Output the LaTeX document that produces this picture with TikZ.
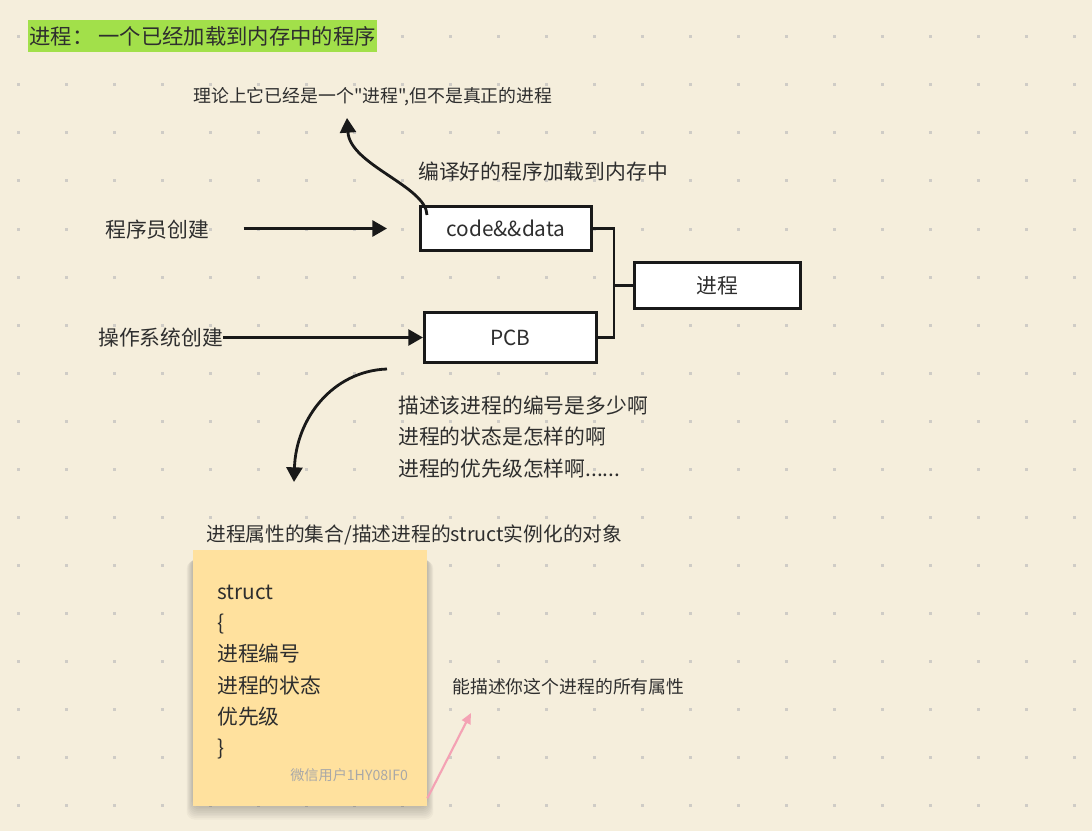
\documentclass[tikz,border=0pt]{standalone}
\usepackage{fontspec}
\setmainfont{Noto Sans CJK SC}
\newfontfamily\cjk{Noto Sans CJK SC}
\usetikzlibrary{positioning, arrows.meta}
\definecolor{paper}{HTML}{F5EEDC}
\definecolor{griddot}{HTML}{CFCCC6}
\definecolor{titlegreen}{HTML}{A2E04A}
\definecolor{stickynote}{HTML}{FFE19E}
\definecolor{inkgray}{HTML}{2E2E2E}
\definecolor{attrpink}{HTML}{F4A2B4}
\definecolor{markgray}{HTML}{A8A8A8}
\newcommand{\lbfont}{\cjk\fontsize{15.6pt}{23.4pt}\selectfont}
\begin{document}
\begin{tikzpicture}[
    x=0.75pt, y=-0.75pt,
    lbl/.style={inner sep=0pt, anchor=west, text=inkgray, font=\lbfont, align=left},
    smalllbl/.style={inner sep=0pt, anchor=west, text=inkgray, font=\cjk\fontsize{13.4pt}{16pt}\selectfont},
    box/.style={rectangle, draw=black!90, fill=white, line width=2.4pt, text=inkgray, font=\lbfont, inner sep=0pt},
    arrow/.style={-{Triangle[length=11pt, width=12pt]}, line width=2.1pt, black!90},
    link/.style={line width=2pt, black!90},
    sticky/.style={rectangle, fill=stickynote, minimum width=175.5pt, minimum height=192pt, inner sep=0pt},
    pinkarrow/.style={-{Triangle[length=8pt, width=7pt]}, line width=1.6pt, attrpink}
]
% paper and dot grid
\fill[paper] (0,0) rectangle (1092,831);
\useasboundingbox (0,0) rectangle (1092,831);
\foreach \gx in {18,66,...,1074}
  \foreach \gy in {37,85,...,805}
    \fill[griddot] (\gx-1.5,\gy-1.5) rectangle ++(3,3);

% title
\node[fill=titlegreen, text=inkgray, inner xsep=1pt, inner ysep=0pt, minimum height=24pt, anchor=west,
    font=\cjk\fontsize{16pt}{18pt}\selectfont] (title) at (28,36) {进程： 一个已经加载到内存中的程序};
\node[smalllbl] (theory) at (193,97) {理论上它已经是一个"进程",但不是真正的进程};
\node[lbl] (loadlbl) at (418,172) {编译好的程序加载到内存中};

% boxes
\node[box, minimum width=128.1pt, minimum height=32.9pt] (code) at (506,228.5) {code\&\&data};
\node[box, minimum width=124.4pt, minimum height=34.4pt] (proc) at (717.5,285.5) {进程};
\node[box, minimum width=128.9pt, minimum height=37.4pt] (pcb) at (510.5,337.5) {PCB};

\node[lbl] (coder) at (105,229.5) {程序员创建};
\node[lbl] (os) at (98,338) {操作系统创建};

\draw[arrow, shorten <=25.5pt, shorten >=24pt] (coder.east |- code.west) -- (code.west);
\draw[arrow] (os.east |- pcb.west) -- (pcb.west);

\coordinate (fork) at (614,285.5);
\draw[link] (code.east) -| (fork) |- (pcb.east);
\draw[link] (fork) -- (proc.west);

% curved arrows
\coordinate (uptip) at (347,118);
\draw[arrow] ([xshift=6pt, yshift=-7.5pt]code.north west) .. controls (426,186) and (350,165) .. (uptip);
\coordinate (pcbtail) at (387,369);
\coordinate (structtip) at (294,482);
\draw[arrow] (pcbtail) .. controls (333,371) and (296,418) .. (structtip);

\node[lbl] (pcbinfo) at (398,437) {描述该进程的编号是多少啊\\进程的状态是怎样的啊\\进程的优先级怎样啊......};

% struct note
\node[lbl, font=\cjk\fontsize{14.8pt}{18pt}\selectfont] (structcap) at (206,535) {进程属性的集合/描述进程的struct实例化的对象};
\foreach \s in {1,...,8}
  \fill[black, opacity=0.028, rounded corners=6pt] (193-\s*0.8,556+\s*0.6) rectangle (427+\s*0.8,806+\s*1.7);
\node[sticky] (note) at (310,678) {};
\node[lbl] (fields) at (217,672) {struct\\\{\\进程编号\\进程的状态\\优先级\\\}};
\node[inner sep=0pt, anchor=east, text=markgray, font=\cjk\fontsize{10.6pt}{12pt}\selectfont] (wm)
    at ([shift={(-14.25pt,23.25pt)}]note.south east) {微信用户1HY08IF0};

\node[smalllbl] (attr) at (452,687) {能描述你这个进程的所有属性};
\coordinate (attrtip) at (471,713);
\draw[pinkarrow] ([yshift=6pt]note.south east) .. controls (442,770) and (458,738) .. (attrtip);
\end{tikzpicture}
\end{document}
